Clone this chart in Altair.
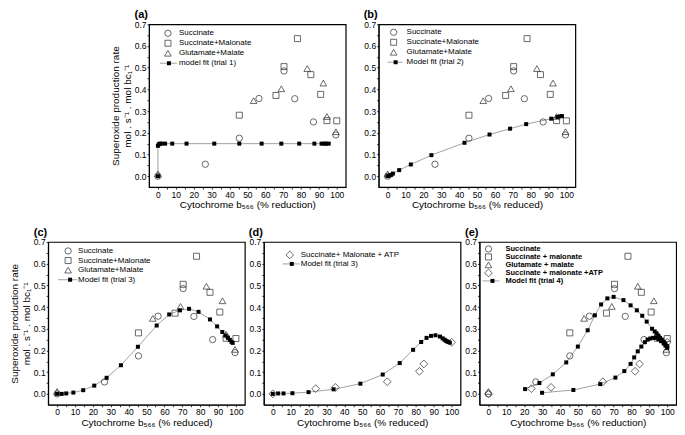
import altair as alt
import pandas as pd

# ---------------- data ----------------
SUCC_X = [0, 26.5, 45.5, 56.5, 70.5, 76.5, 87, 99.5]
SUCC_Y = [0.0, 0.055, 0.175, 0.358, 0.485, 0.357, 0.25, 0.19]

MAL_X = [45.5, 66, 70.5, 78, 85.5, 91, 94.5, 100]
MAL_Y = [0.281, 0.372, 0.505, 0.634, 0.468, 0.377, 0.256, 0.255]

GLU_X = [0, 53.5, 69, 83.5, 92.5, 94.5, 99.5]
GLU_Y = [0.011, 0.348, 0.403, 0.496, 0.429, 0.275, 0.205]

ATP_X = [0, 24, 35, 64, 82, 84.5, 100]
ATP_Y = [0.0, 0.024, 0.03, 0.056, 0.104, 0.138, 0.238]

T1_X = [0, 0, 0.5, 1, 2, 4, 8, 16, 31.5, 45.5, 58, 69, 79, 87.5, 91.5, 93, 94, 95.5]
T1_Y = [0.0, 0.14, 0.147, 0.15, 0.15, 0.15, 0.15, 0.15, 0.15, 0.15, 0.15, 0.15, 0.15,
        0.15, 0.15, 0.15, 0.15, 0.15]

T2_X = [0, 1, 2, 3, 6.5, 13, 24.5, 43, 57, 68.5, 77.5, 91.5, 95, 96.5, 97.5]
T2_Y = [0.0, 0.003, 0.006, 0.012, 0.028, 0.054, 0.097, 0.154, 0.192, 0.219, 0.24,
        0.265, 0.273, 0.276, 0.277]

T3C_X = [0, 2.6, 5.1, 9.1, 14.6, 20.8, 27.7, 35.7, 45.2, 55.7, 62.7, 68.7, 73.8, 79.1,
         85.5, 89.5, 92.4, 94.2, 95.5, 96.6, 97.5, 98.2]
T3C_Y = [0.0, 0.0, 0.002, 0.006, 0.017, 0.038, 0.074, 0.132, 0.217, 0.315, 0.366, 0.385,
         0.392, 0.378, 0.343, 0.311, 0.285, 0.269, 0.258, 0.249, 0.24, 0.235]

T3D_X = [0, 3, 6, 11, 20, 34, 49, 61.5, 71, 78.5, 83, 86, 88.5, 91, 93.5, 95, 96, 96.7,
         97.5, 98.2, 99]
T3D_Y = [0.0, 0.002, 0.002, 0.003, 0.008, 0.021, 0.047, 0.089, 0.142, 0.203, 0.239, 0.258,
         0.267, 0.27, 0.264, 0.256, 0.25, 0.245, 0.242, 0.239, 0.236]

T4A_X = [20.5, 28.5, 36, 43.5, 50, 55.5, 59.5, 63, 66.5, 70, 75.5, 79.5, 83, 86, 88.5,
         91.5, 93, 94, 95, 96, 97, 98, 99, 100]
T4A_Y = [0.022, 0.05, 0.09, 0.145, 0.218, 0.293, 0.362, 0.412, 0.44, 0.447, 0.432, 0.408,
         0.385, 0.36, 0.333, 0.3, 0.288, 0.278, 0.268, 0.258, 0.25, 0.24, 0.23, 0.22]

T4B_X = [30, 47.5, 62.5, 71, 76, 79.5, 81.5, 83.5, 85.5, 87.5, 89, 90.5, 92, 93.5, 95,
         96.5, 98, 99, 100]
T4B_Y = [0.005, 0.018, 0.045, 0.075, 0.105, 0.138, 0.168, 0.196, 0.218, 0.238, 0.25,
         0.255, 0.258, 0.258, 0.252, 0.243, 0.232, 0.222, 0.212]

SERIES = ["Succinate", "Succinate+Malonate", "Glutamate+Malate", "Succinate+Malonate+ATP"]
SHAPES = ["circle", "square", "triangle-up", "diamond"]

Y_TITLE = ["Superoxide production rate", "mol . s\u207b\u00b9 . mol bc\u2081\u207b\u00b9"]

# ---------------- tables ----------------
obs_rows = []
for key, xs, ys in [(SERIES[0], SUCC_X, SUCC_Y), (SERIES[1], MAL_X, MAL_Y),
                    (SERIES[2], GLU_X, GLU_Y), (SERIES[3], ATP_X, ATP_Y)]:
    for xv, yv in zip(xs, ys):
        obs_rows.append({"series": key, "x": xv, "y": yv})
obs_df = pd.DataFrame(obs_rows)

FONT = "Liberation Sans"
W, H = 197, 163
XD = [-5, 105]
YD = [-0.05, 0.7]
shape_scale = alt.Scale(domain=SERIES, range=SHAPES)
SIZES = {"circle": 40, "square": 36, "triangle-up": 44, "diamond": 60}


def x_axis(title):
    return alt.Axis(title=title, values=list(range(0, 101, 5)),
                    labelExpr="datum.value % 10 == 0 ? datum.label : ''",
                    tickSize=2, labelPadding=1, titlePadding=1, grid=False)


def y_axis(title):
    vals = [round(i * 0.05, 2) for i in range(15)]
    return alt.Axis(title=title, values=vals, format=".1f",
                    labelExpr="round(datum.value*100) % 10 == 0 ? datum.label : ''",
                    tickSize=2, labelPadding=1, titlePadding=2, grid=False)


def panel(tag, series, fits, legend, xtitle, ytitle, leg):
    xs = alt.Scale(domain=XD, nice=False, zero=False)
    ys = alt.Scale(domain=YD, nice=False, zero=False)
    X = alt.X("x:Q", scale=xs, axis=x_axis(xtitle))
    Y = alt.Y("y:Q", scale=ys, axis=y_axis(ytitle))

    fit_rows = []
    for name, (fx, fy) in fits.items():
        for i, (xv, yv) in enumerate(zip(fx, fy)):
            fit_rows.append({"curve": name, "i": i, "x": xv, "y": yv})
    fit_df = pd.DataFrame(fit_rows)

    layers = []
    layers.append(alt.Chart(fit_df).mark_line(color="#8a8a8a", strokeWidth=0.8).encode(
        x=X, y=Y, detail="curve:N", order="i:Q"))
    for s in series:
        sub = obs_df[obs_df["series"] == s]
        shp = SHAPES[SERIES.index(s)]
        layers.append(alt.Chart(sub).mark_point(
            filled=False, color="#444", strokeWidth=0.8, size=SIZES[shp], opacity=1).encode(
            x=X, y=Y, shape=alt.Shape("series:N", scale=shape_scale, legend=None)))
    layers.append(alt.Chart(fit_df).mark_point(
        shape="square", filled=True, color="black", size=16, opacity=1).encode(x=X, y=Y))

    # in-plot legend
    rows = []
    for i, (key, label) in enumerate(legend):
        rows.append({"series": key, "label": label,
                     "py": leg["row0"] + i * leg["dy"],
                     "px": leg["sym"], "tx": leg["text"],
                     "lx0": leg["line"][0], "lx1": leg["line"][1], "sx": leg["sq"]})
    ldf = pd.DataFrame(rows)
    sym_df = ldf[ldf["series"] != "fit"]
    fit_leg = ldf[ldf["series"] == "fit"]
    for s in sym_df["series"].unique():
        shp = SHAPES[SERIES.index(s)]
        layers.append(alt.Chart(sym_df[sym_df["series"] == s]).mark_point(
            filled=False, color="#444", strokeWidth=0.8, size=SIZES[shp], opacity=1).encode(
            x=alt.X("px:Q", scale=None), y=alt.Y("py:Q", scale=None),
            shape=alt.Shape("series:N", scale=shape_scale, legend=None)))
    layers.append(alt.Chart(fit_leg).mark_rule(color="#8a8a8a", strokeWidth=0.8).encode(
        x=alt.X("lx0:Q", scale=None), x2="lx1:Q", y=alt.Y("py:Q", scale=None)))
    layers.append(alt.Chart(fit_leg).mark_point(
        shape="square", filled=True, color="black", size=16, opacity=1).encode(
        x=alt.X("sx:Q", scale=None), y=alt.Y("py:Q", scale=None)))
    layers.append(alt.Chart(ldf).mark_text(
        align="left", baseline="middle", fontSize=leg.get("fs", 8), font=FONT,
        fontWeight=leg.get("fw", "normal"), fill="black").encode(
        x=alt.X("tx:Q", scale=None), y=alt.Y("py:Q", scale=None), text="label:N"))

    return alt.layer(*layers).properties(
        width=W, height=H,
        title=alt.TitleParams(text=tag, anchor="start", align="right", frame="group",
                              dx=-1, fontSize=11, fontWeight="bold", font=FONT,
                              offset=0, color="black"))


OBS3 = SERIES[:3]
XT_RED = "Cytochrome b\u2085\u2086\u2086 (% reduced)"
XT_RDN = "Cytochrome b\u2085\u2086\u2086 (% reduction)"

pa = panel("(a)", OBS3, {"t1": (T1_X, T1_Y)},
           [(SERIES[0], "Succinate"), (SERIES[1], "Succinate+Malonate"),
            (SERIES[2], "Glutamate+Malate"), ("fit", "model fit (trial 1)")],
           XT_RDN, Y_TITLE,
           {"sym": 19, "text": 30, "line": (11, 28), "sq": 20, "row0": 9, "dy": 10})
pb = panel("(b)", OBS3, {"t2": (T2_X, T2_Y)},
           [(SERIES[0], "Succinate"), (SERIES[1], "Succinate+Malonate"),
            (SERIES[2], "Glutamate+Malate"), ("fit", "Model fit (trial 2)")],
           XT_RED, None,
           {"sym": 15, "text": 28, "line": (9, 24), "sq": 17, "row0": 8, "dy": 10})
pc = panel("(c)", OBS3, {"t3": (T3C_X, T3C_Y)},
           [(SERIES[0], "Succinate"), (SERIES[1], "Succinate+Malonate"),
            (SERIES[2], "Glutamate+Malate"), ("fit", "Model fit (trial 3)")],
           XT_RED, Y_TITLE,
           {"sym": 20, "text": 30, "line": (10, 29), "sq": 22, "row0": 9, "dy": 9.6})
pd_ = panel("(d)", [SERIES[3]], {"t3": (T3D_X, T3D_Y)},
            [(SERIES[3], "Succinate+ Malonate + ATP"), ("fit", "Model fit (trial 3)")],
            XT_RED, None,
            {"sym": 26, "text": 37, "line": (19, 36), "sq": 28, "row0": 13, "dy": 9})
pe = panel("(e)", SERIES, {"t4a": (T4A_X, T4A_Y), "t4b": (T4B_X, T4B_Y)},
           [(SERIES[0], "Succinate"), (SERIES[1], "Succinate + malonate"),
            (SERIES[2], "Glutamate + malate"), (SERIES[3], "Succinate + malonate +ATP"),
            ("fit", "Model fit (trial 4)")],
           XT_RDN, None,
           {"sym": 9, "text": 26, "line": (3, 20), "sq": 13, "row0": 7, "dy": 8,
            "fs": 7.5, "fw": "bold"})

top = alt.hconcat(pa, pb, spacing=16)
bottom = alt.hconcat(pc, pd_, pe, spacing=2)

chart = alt.vconcat(top, bottom, spacing=15, center=True).properties(
    padding=0
).configure_view(
    stroke="black", strokeWidth=1.2
).configure_axis(
    labelFont=FONT, titleFont=FONT, labelFontSize=8.5, titleFontSize=10,
    titleFontWeight="normal", labelColor="black", titleColor="black",
    domainColor="black", tickColor="black", domainWidth=1, tickWidth=0.8
)

chart.save("out.html", embed_options={"renderer": "svg", "actions": False})
